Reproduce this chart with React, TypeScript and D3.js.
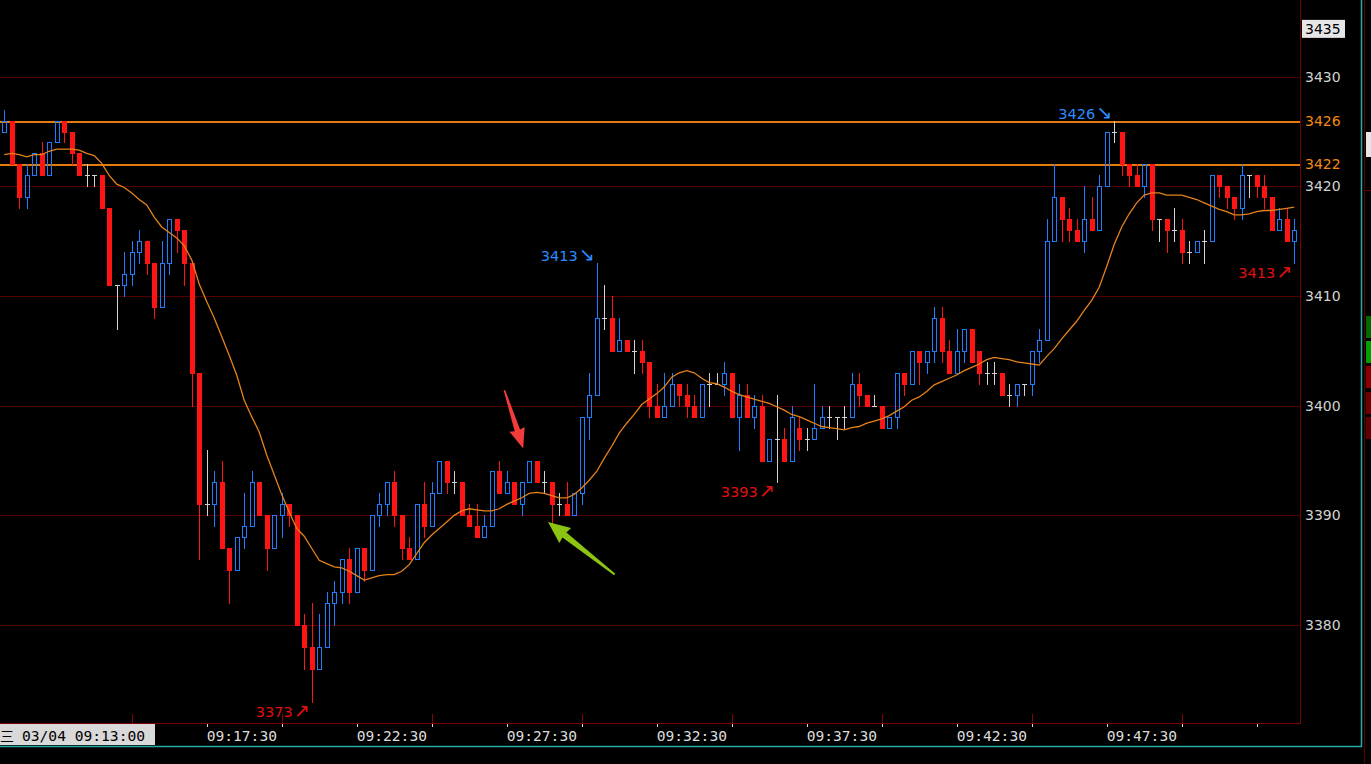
// App.tsx
import React, { useEffect, useRef } from 'react';
import * as d3 from 'd3';

const WIDTH = 1371;
const HEIGHT = 764;

// 15 second bars, first bar 03/04 09:10:45
const SESSION_START = new Date(2024, 2, 4, 9, 10, 45);
const BAR_SECONDS = 15;

// [open, high, low, close]
const BARS: [number, number, number, number][] = [
  [3425, 3427, 3425, 3426], [3426, 3426, 3422, 3422], [3422, 3422, 3418, 3419], [3419, 3422, 3418, 3421],
  [3421, 3423, 3421, 3423], [3423, 3424, 3421, 3421], [3421, 3424, 3421, 3424], [3424, 3426, 3424, 3426],
  [3426, 3426, 3424, 3425], [3425, 3425, 3422, 3423], [3423, 3423, 3421, 3421], [3421, 3422, 3420, 3421],
  [3421, 3421, 3420, 3421], [3421, 3421, 3418, 3418], [3418, 3418, 3411, 3411], [3411, 3411, 3407, 3411],
  [3411, 3414, 3410, 3412], [3412, 3415, 3411, 3414], [3414, 3416, 3413, 3415], [3415, 3415, 3412, 3413],
  [3413, 3413, 3408, 3409], [3409, 3415, 3409, 3413], [3413, 3417, 3412, 3417], [3417, 3417, 3414, 3416],
  [3416, 3416, 3411, 3413], [3413, 3413, 3400, 3403], [3403, 3403, 3386, 3391], [3391, 3396, 3390, 3391],
  [3391, 3394, 3389, 3393], [3393, 3395, 3387, 3387], [3387, 3387, 3382, 3385], [3385, 3388, 3385, 3388],
  [3388, 3392, 3387, 3389], [3389, 3394, 3389, 3393], [3393, 3393, 3390, 3390], [3390, 3390, 3385, 3387],
  [3387, 3390, 3387, 3390], [3390, 3392, 3388, 3391], [3391, 3391, 3389, 3390], [3390, 3390, 3380, 3380],
  [3380, 3381, 3376, 3378], [3378, 3382, 3373, 3376], [3376, 3381, 3376, 3378], [3378, 3383, 3378, 3382],
  [3382, 3384, 3380, 3383], [3383, 3386, 3382, 3386], [3386, 3387, 3382, 3383], [3383, 3387, 3383, 3387],
  [3387, 3387, 3384, 3385], [3385, 3390, 3385, 3390], [3390, 3392, 3389, 3391], [3391, 3393, 3390, 3393],
  [3393, 3394, 3389, 3390], [3390, 3390, 3386, 3387], [3387, 3388, 3386, 3386], [3386, 3391, 3386, 3391],
  [3391, 3393, 3388, 3389], [3389, 3393, 3389, 3392], [3392, 3395, 3392, 3395], [3395, 3395, 3392, 3393],
  [3393, 3394, 3392, 3393], [3393, 3393, 3390, 3390], [3390, 3391, 3389, 3389], [3389, 3391, 3388, 3388],
  [3388, 3390, 3388, 3389], [3389, 3394, 3389, 3394], [3394, 3395, 3392, 3392], [3392, 3394, 3392, 3393],
  [3393, 3393, 3391, 3391], [3391, 3393, 3390, 3393], [3393, 3395, 3393, 3395], [3395, 3395, 3393, 3393],
  [3393, 3394, 3392, 3393], [3393, 3393, 3389, 3391], [3391, 3392, 3390, 3391], [3391, 3393, 3390, 3390],
  [3390, 3392, 3390, 3392], [3392, 3399, 3391, 3399], [3399, 3403, 3397, 3401], [3401, 3413, 3401, 3408],
  [3408, 3411, 3407, 3408], [3408, 3410, 3405, 3405], [3405, 3408, 3405, 3406], [3406, 3406, 3405, 3405],
  [3405, 3406, 3403, 3405], [3405, 3406, 3403, 3404], [3404, 3404, 3399, 3400], [3400, 3402, 3399, 3399],
  [3399, 3403, 3399, 3400], [3400, 3403, 3400, 3402], [3402, 3402, 3400, 3401], [3401, 3402, 3399, 3400],
  [3400, 3401, 3399, 3399], [3399, 3402, 3399, 3402], [3402, 3403, 3400, 3402], [3402, 3403, 3402, 3402],
  [3402, 3404, 3401, 3403], [3403, 3403, 3399, 3399], [3399, 3402, 3396, 3401], [3401, 3402, 3399, 3399],
  [3399, 3401, 3398, 3400], [3400, 3401, 3395, 3395], [3395, 3397, 3395, 3397], [3397, 3401, 3393, 3397],
  [3397, 3398, 3395, 3395], [3395, 3400, 3395, 3399], [3398, 3399, 3396, 3397], [3397, 3398, 3396, 3397],
  [3397, 3402, 3397, 3398], [3398, 3400, 3398, 3399], [3399, 3400, 3398, 3399], [3399, 3399, 3397, 3399],
  [3399, 3400, 3398, 3399], [3399, 3403, 3399, 3402], [3402, 3403, 3400, 3401], [3401, 3401, 3400, 3400],
  [3400, 3401, 3400, 3400], [3400, 3400, 3398, 3398], [3398, 3399, 3398, 3399], [3399, 3403, 3398, 3403],
  [3403, 3403, 3401, 3402], [3402, 3405, 3402, 3405], [3405, 3405, 3402, 3404], [3404, 3405, 3403, 3405],
  [3405, 3409, 3404, 3408], [3408, 3409, 3404, 3405], [3405, 3406, 3403, 3403], [3403, 3407, 3403, 3405],
  [3405, 3407, 3404, 3407], [3407, 3407, 3404, 3404], [3405, 3405, 3402, 3403], [3403, 3404, 3402, 3403],
  [3403, 3404, 3402, 3403], [3403, 3403, 3401, 3401], [3401, 3402, 3400, 3401], [3401, 3402, 3400, 3402],
  [3402, 3402, 3401, 3402], [3402, 3405, 3401, 3405], [3405, 3407, 3404, 3406], [3406, 3417, 3406, 3415],
  [3415, 3422, 3415, 3419], [3419, 3419, 3415, 3417], [3417, 3418, 3415, 3416], [3416, 3417, 3415, 3415],
  [3415, 3420, 3414, 3417], [3417, 3419, 3416, 3416], [3416, 3421, 3416, 3420], [3420, 3425, 3420, 3425],
  [3425, 3426, 3424, 3425], [3425, 3425, 3421, 3422], [3422, 3422, 3420, 3421], [3421, 3422, 3420, 3420],
  [3420, 3422, 3419, 3422], [3422, 3422, 3416, 3417], [3417, 3417, 3415, 3417], [3417, 3417, 3414, 3416],
  [3416, 3418, 3415, 3416], [3416, 3417, 3413, 3414], [3414, 3415, 3413, 3414], [3414, 3415, 3414, 3415],
  [3415, 3416, 3413, 3415], [3415, 3421, 3415, 3421], [3421, 3421, 3419, 3420], [3420, 3420, 3418, 3419],
  [3419, 3419, 3417, 3418], [3418, 3422, 3417, 3421], [3421, 3421, 3419, 3421], [3421, 3421, 3419, 3420],
  [3420, 3421, 3418, 3419], [3419, 3419, 3416, 3416], [3416, 3418, 3416, 3417], [3417, 3418, 3415, 3415],
  [3415, 3417, 3413, 3416],
];

// moving average as drawn on the chart
const MA_VALUES = [
  3422.9, 3423.0, 3422.9, 3422.7, 3422.9, 3422.9, 3423.2, 3423.4, 3423.4, 3423.4,
  3423.3, 3423.0, 3422.8, 3422.1, 3421.0, 3420.2, 3419.9, 3419.4, 3418.8, 3418.3,
  3417.2, 3416.3, 3415.8, 3415.3, 3414.6, 3413.3, 3411.1, 3409.5, 3408.0, 3406.3,
  3404.6, 3402.8, 3400.5, 3399.0, 3397.6, 3395.5, 3393.7, 3391.9, 3390.3, 3388.8,
  3388.1, 3387.0, 3385.9, 3385.6, 3385.3, 3385.2, 3384.9, 3384.5, 3384.1, 3384.3,
  3384.5, 3384.6, 3384.6, 3384.9, 3385.5, 3386.5, 3387.5, 3388.2, 3388.8, 3389.4,
  3390.0, 3390.4, 3390.6, 3390.5, 3390.4, 3390.4, 3390.6, 3391.0, 3391.3, 3391.6,
  3392.0, 3392.1, 3392.0, 3391.8, 3391.6, 3391.6, 3391.9, 3392.5, 3393.2, 3394.0,
  3395.2, 3396.3, 3397.5, 3398.4, 3399.2, 3400.1, 3400.6, 3401.1, 3401.7, 3402.6,
  3403.0, 3403.2, 3403.0, 3402.5, 3402.1, 3402.0, 3401.7, 3401.3, 3401.0, 3400.8,
  3400.6, 3400.4, 3400.2, 3399.9, 3399.6, 3399.2, 3399.0, 3398.7, 3398.4, 3398.1,
  3398.0, 3397.9, 3397.8, 3398.0, 3398.1, 3398.4, 3398.6, 3398.8, 3399.1, 3399.5,
  3399.9, 3400.5, 3400.8, 3401.3, 3401.9, 3402.2, 3402.5, 3402.8, 3403.2, 3403.5,
  3403.8, 3404.2, 3404.4, 3404.3, 3404.2, 3404.0, 3403.9, 3403.8, 3403.7, 3404.5,
  3405.2, 3406.1, 3406.9, 3407.7, 3408.7, 3409.6, 3410.8, 3412.7, 3414.7, 3416.3,
  3417.5, 3418.5, 3419.2, 3419.4, 3419.4, 3419.2, 3419.2, 3419.2, 3419.0, 3418.8,
  3418.5, 3418.2, 3417.9, 3417.7, 3417.4, 3417.4, 3417.5, 3417.7, 3417.8, 3417.8,
  3417.9, 3418.0, 3418.1,
];

const PRICE_TICKS = [3380, 3390, 3400, 3410, 3420, 3430];
const TOP_PRICE = 3435;
const KEY_LEVELS = [3426, 3422];
const TIME_LABELS = ['09:17:30', '09:22:30', '09:27:30', '09:32:30', '09:37:30', '09:42:30', '09:47:30'];
const CURSOR_LABEL = '03/04 09:13:00';

// highs / lows marked with their price
const EXTREMES = [
  { index: 148, kind: 'high' },
  { index: 79, kind: 'high' },
  { index: 103, kind: 'low' },
  { index: 41, kind: 'low' },
  { index: 172, kind: 'low' },
];

// hand drawn arrows, [bar index, price]
const ARROWS = [
  { from: [66.7, 3401.4], to: [69.2, 3396.1], color: '#f23b3b', head: 17, half: 8, tail: 0.8, neck: 2.8 },
  { from: [81.4, 3384.6], to: [72.5, 3389.4], color: '#8cc412', head: 19, half: 9.5, tail: 1, neck: 3.2 },
];

const barTime = (i: number) => new Date(SESSION_START.getTime() + i * BAR_SECONDS * 1000);
const clockTime = (label: string) => {
  const [h, m, s] = label.split(':').map(Number);
  return new Date(2024, 2, 4, h, m, s);
};

const UP = '#1f7dff';
const DOWN = '#ff1414';
const FLAT = '#d2d2d2';

const CandleChart: React.FC = () => {
  const chartRef = useRef<SVGSVGElement>(null);

  useEffect(() => {
    if (!chartRef.current) return;
    document.body.style.margin = '0';
    document.body.style.background = '#000';

    const plotRight = 1300;
    const axisY = 723;

    const x = d3
      .scaleTime()
      .domain([barTime(0), barTime(BARS.length - 1)])
      .range([4.2, 1294.2]);

    const y = d3.scaleLinear().domain([3380, 3430]).range([625, 76.7]);

    const svg = d3.select(chartRef.current);
    svg.selectAll('*').remove();
    svg.attr('width', WIDTH).attr('height', HEIGHT);

    svg.append('rect').attr('width', WIDTH).attr('height', HEIGHT).attr('fill', '#000');

    // grid
    svg
      .append('g')
      .selectAll('line')
      .data(PRICE_TICKS)
      .join('line')
      .attr('x1', 0)
      .attr('x2', plotRight)
      .attr('y1', (d) => Math.round(y(d)) + 0.5)
      .attr('y2', (d) => Math.round(y(d)) + 0.5)
      .attr('stroke', '#520000')
      .attr('stroke-width', 1);

    // key levels
    svg
      .append('g')
      .selectAll('line')
      .data(KEY_LEVELS)
      .join('line')
      .attr('x1', 0)
      .attr('x2', plotRight)
      .attr('y1', (d) => Math.round(y(d)) + 1)
      .attr('y2', (d) => Math.round(y(d)) + 1)
      .attr('stroke', '#e57a0c')
      .attr('stroke-width', 1.8);

    // candles
    const candles = svg.append('g').attr('shape-rendering', 'crispEdges');
    BARS.forEach(([o, h, l, c], i) => {
      const cx = Math.round(x(barTime(i)));
      const wx = cx + 0.5;
      const yh = Math.round(y(h));
      const yl = Math.round(y(l));
      if (c > o) {
        const top = Math.round(y(c)) + 0.5;
        const bottom = Math.round(y(o)) + 0.5;
        if (yh < top)
          candles.append('line').attr('x1', wx).attr('x2', wx).attr('y1', yh).attr('y2', top).attr('stroke', UP);
        if (yl > bottom)
          candles.append('line').attr('x1', wx).attr('x2', wx).attr('y1', bottom).attr('y2', yl + 1).attr('stroke', UP);
        candles
          .append('rect')
          .attr('x', cx - 1.5)
          .attr('y', top)
          .attr('width', 4)
          .attr('height', bottom - top)
          .attr('fill', 'none')
          .attr('stroke', UP)
          .attr('stroke-width', 1);
      } else if (c < o) {
        candles.append('line').attr('x1', wx).attr('x2', wx).attr('y1', yh).attr('y2', yl + 1).attr('stroke', DOWN);
        const top = Math.round(y(o));
        const bottom = Math.round(y(c));
        candles
          .append('rect')
          .attr('x', cx - 2)
          .attr('y', top)
          .attr('width', 5)
          .attr('height', Math.max(1, bottom - top + 1))
          .attr('fill', DOWN);
      } else {
        candles.append('line').attr('x1', wx).attr('x2', wx).attr('y1', yh).attr('y2', yl + 1).attr('stroke', FLAT);
        const yo = Math.round(y(o)) + 0.5;
        candles.append('line').attr('x1', cx - 2).attr('x2', cx + 3).attr('y1', yo).attr('y2', yo).attr('stroke', FLAT);
      }
    });

    // moving average
    const maLine = d3
      .line<number>()
      .x((d, i) => x(barTime(i)))
      .y((d) => y(d));

    svg
      .append('path')
      .datum(MA_VALUES)
      .attr('fill', 'none')
      .attr('stroke', '#e5821c')
      .attr('stroke-width', 1.3)
      .attr('d', maLine);

    // extreme labels: price then a thin arrow pointing at the bar
    const marks = svg
      .append('g')
      .selectAll('text')
      .data(EXTREMES)
      .join('text')
      .attr('x', (d) => x(barTime(d.index)) - 2)
      .attr('y', (d) => (d.kind === 'high' ? y(BARS[d.index][1]) - 2 : y(BARS[d.index][2]) + 15))
      .attr('text-anchor', 'end')
      .attr('font-family', 'DejaVu Sans, sans-serif')
      .attr('font-size', 14.5)
      .attr('fill', (d) => (d.kind === 'high' ? '#2a8cff' : '#e01010'));
    marks.append('tspan').text((d) => (d.kind === 'high' ? BARS[d.index][1] : BARS[d.index][2]));
    marks
      .append('tspan')
      .attr('font-size', 19)
      .attr('dx', 1)
      .text((d) => (d.kind === 'high' ? '\u2198' : '\u2197'));

    // arrows
    ARROWS.forEach((a) => {
      const tx = x(barTime(a.from[0]));
      const ty = y(a.from[1]);
      const px = x(barTime(a.to[0]));
      const py = y(a.to[1]);
      const len = Math.hypot(px - tx, py - ty);
      const ux = (px - tx) / len;
      const uy = (py - ty) / len;
      const nx = -uy;
      const ny = ux;
      const bx = px - ux * a.head;
      const by = py - uy * a.head;
      const pts: [number, number][] = [
        [tx + nx * a.tail, ty + ny * a.tail],
        [bx + nx * a.neck - ux * 2, by + ny * a.neck - uy * 2],
        [bx + nx * a.half - ux * 3, by + ny * a.half - uy * 3],
        [px, py],
        [bx - nx * a.half - ux * 3, by - ny * a.half - uy * 3],
        [bx - nx * a.neck - ux * 2, by - ny * a.neck - uy * 2],
        [tx - nx * a.tail, ty - ny * a.tail],
      ];
      svg
        .append('path')
        .attr('d', 'M' + pts.map((p) => p.join(',')).join('L') + 'Z')
        .attr('fill', a.color);
    });

    // frame
    svg
      .append('line')
      .attr('x1', plotRight + 0.5)
      .attr('x2', plotRight + 0.5)
      .attr('y1', 0)
      .attr('y2', axisY + 1)
      .attr('stroke', '#7a0000');
    svg
      .append('line')
      .attr('x1', 0)
      .attr('x2', plotRight + 1)
      .attr('y1', axisY + 0.5)
      .attr('y2', axisY + 0.5)
      .attr('stroke', '#7a0000');

    // price axis
    const priceAxis = svg.append('g').attr('font-family', 'DejaVu Sans, sans-serif').attr('font-size', 14);
    priceAxis
      .selectAll('text.tick')
      .data(PRICE_TICKS)
      .join('text')
      .attr('class', 'tick')
      .attr('x', 1305)
      .attr('y', (d) => y(d))
      .attr('dy', '0.36em')
      .attr('fill', '#d2d2d2')
      .text((d) => d);
    priceAxis
      .selectAll('text.level')
      .data(KEY_LEVELS)
      .join('text')
      .attr('class', 'level')
      .attr('x', 1305)
      .attr('y', (d) => y(d))
      .attr('dy', '0.36em')
      .attr('fill', '#f08a12')
      .text((d) => d);
    const topY = y(TOP_PRICE);
    priceAxis
      .append('rect')
      .attr('x', 1302)
      .attr('y', topY - 2)
      .attr('width', 43)
      .attr('height', 18)
      .attr('fill', '#e6e6e6');
    priceAxis
      .append('text')
      .attr('x', 1305)
      .attr('y', topY + 7)
      .attr('dy', '0.36em')
      .attr('fill', '#000')
      .text(TOP_PRICE);

    // time axis ticks
    const [t0, t1] = x.domain();
    const majorTicks = d3.timeMinute.every(5)!.range(t0, t1);
    svg
      .append('g')
      .selectAll('line')
      .data(majorTicks)
      .join('line')
      .attr('x1', (d) => Math.round(x(d)) + 0.5)
      .attr('x2', (d) => Math.round(x(d)) + 0.5)
      .attr('y1', axisY - 9)
      .attr('y2', axisY)
      .attr('stroke', '#8a0000');

    const minorStep = 150 * 1000;
    const firstMinor = Math.ceil(t0.getTime() / minorStep) * minorStep;
    const minorTicks = d3.range(firstMinor, t1.getTime(), minorStep).map((t) => new Date(t));
    svg
      .append('g')
      .selectAll('line')
      .data(minorTicks)
      .join('line')
      .attr('x1', (d) => Math.round(x(d)) + 0.5)
      .attr('x2', (d) => Math.round(x(d)) + 0.5)
      .attr('y1', axisY + 1)
      .attr('y2', axisY + 4)
      .attr('stroke', '#d8d8d8');

    svg
      .append('g')
      .selectAll('text')
      .data(TIME_LABELS)
      .join('text')
      .attr('x', (d) => x(clockTime(d)))
      .attr('y', 741)
      .attr('font-family', 'DejaVu Sans Mono, monospace')
      .attr('font-size', 14.6)
      .attr('fill', '#dcdcdc')
      .text((d) => d);

    // cursor time box
    svg.append('rect').attr('x', 0).attr('y', axisY + 1).attr('width', 155).attr('height', 21).attr('fill', '#d9d9d9');
    svg
      .append('text')
      .attr('x', 0)
      .attr('y', 741)
      .attr('font-family', 'Noto Sans CJK SC, sans-serif')
      .attr('font-size', 14)
      .attr('fill', '#000')
      .text('三');
    svg
      .append('text')
      .attr('x', 22)
      .attr('y', 741)
      .attr('font-family', 'DejaVu Sans Mono, monospace')
      .attr('font-size', 14.6)
      .attr('fill', '#000')
      .text(CURSOR_LABEL);

    // outer window frame
    svg.append('line').attr('x1', 0).attr('x2', 1362).attr('y1', 746.5).attr('y2', 746.5).attr('stroke', '#2aa8a8').attr('stroke-width', 1.5);
    svg.append('line').attr('x1', 1361.5).attr('x2', 1361.5).attr('y1', 0).attr('y2', 747).attr('stroke', '#2aa8a8').attr('stroke-width', 1.5);
    svg.append('line').attr('x1', 1364.5).attr('x2', 1364.5).attr('y1', 0).attr('y2', HEIGHT).attr('stroke', '#5a0000');

    // neighbouring panel edge
    const side = svg.append('g').attr('shape-rendering', 'crispEdges');
    side.append('rect').attr('x', 1366).attr('y', 132).attr('width', 5).attr('height', 25).attr('fill', '#e6e6e6');
    side.append('line').attr('x1', 1365).attr('x2', WIDTH).attr('y1', 190.5).attr('y2', 190.5).attr('stroke', '#7a0000');
    [
      ['#006a00', 316], ['#00a000', 341], ['#8a0000', 366], ['#700000', 392], ['#600000', 417],
    ].forEach(([fill, top]) => {
      side.append('rect').attr('x', 1366).attr('y', top as number).attr('width', 5).attr('height', 22).attr('fill', fill as string);
    });
  }, []);

  return <svg ref={chartRef} style={{ position: 'absolute', left: 0, top: 0, display: 'block' }}></svg>;
};

export default function App() {
  return <CandleChart />;
}
